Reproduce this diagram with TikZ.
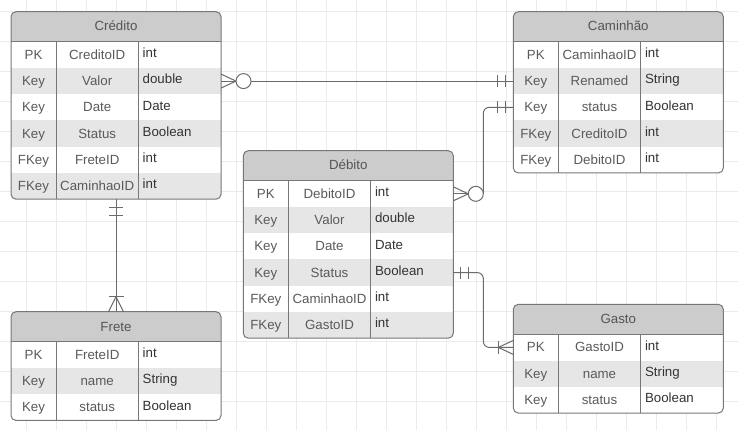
\documentclass[tikz,border=0pt]{standalone}
\usepackage{fontspec}
\setmainfont{Liberation Sans}
\usetikzlibrary{calc}
\definecolor{hdrfill}{HTML}{CCCCCC}
\definecolor{rowfill}{HTML}{E6E6E6}
\definecolor{bordc}{HTML}{777777}
\definecolor{gridc}{HTML}{EBEBEB}
\definecolor{connc}{HTML}{6B6B6B}
\definecolor{keyc}{HTML}{5A5A5A}
\definecolor{typec}{HTML}{333333}
\definecolor{hdrc}{HTML}{555555}
\tikzset{
  gridline/.style={draw=gridc, line width=0.8pt},
  tblborder/.style={draw=bordc, line width=1pt},
  rowbox/.style={inner sep=0pt, outer sep=0pt, minimum width=210pt, minimum height=26.25pt},
  keytxt/.style={text=keyc, inner sep=0pt, anchor=base, font=\fontsize{13.3}{16}\selectfont},
  typetxt/.style={text=typec, inner sep=0pt, anchor=base west, font=\fontsize{13.3}{16}\selectfont},
  hdrtxt/.style={text=hdrc, inner sep=0pt, anchor=base, font=\fontsize{13.3}{16}\selectfont},
  conn/.style={draw=connc, line width=1pt},
}
\newcommand{\ertable}[6]{%
  \pgfmathsetmacro{\tH}{30+#5*26.25}
  \node[inner sep=0pt, outer sep=0pt, minimum width=210pt, minimum height=\tH pt, anchor=north west] (#1) at (#2,#3) {};
  \begin{scope}
    \clip[rounded corners=5pt] (#2,#3) rectangle ++(210,\tH);
    \fill[white] (#2,#3) rectangle ++(210,\tH);
    \fill[hdrfill] (#2,#3) rectangle ++(210,30);
    \foreach \rk/\rn/\rt [count=\i] in {#6} {
      \pgfmathsetmacro{\ry}{#3+30+(\i-1)*26.25}
      \ifodd\i\relax \def\rf{white}\else \def\rf{rowfill}\fi
      \node[rowbox, fill=\rf, anchor=north west] (#1-r\i) at (#2,\ry) {};
      \node[keytxt] (#1-k\i) at ({#2+22.5},{\ry+13.125+4.5}) {\rk};
      \node[keytxt] (#1-n\i) at ({#2+86.2},{\ry+13.125+4.5}) {\rn};
      \node[typetxt] (#1-t\i) at ({#2+131.5},{\ry+13.125+2.7}) {\rt};
    }
  \end{scope}
  \node[hdrtxt] (#1-h) at ({#2+105},{#3+15+4.3}) {#4};
  \draw[tblborder] (#2,{#3+30}) -- ++(210,0);
  \draw[tblborder] ({#2+45},{#3+30}) -- ++(0,{\tH-30});
  \draw[tblborder] ({#2+127.3},{#3+30}) -- ++(0,{\tH-30});
  \draw[tblborder, rounded corners=5pt] (#2,#3) rectangle ++(210,\tH);
}
\begin{document}
\begin{tikzpicture}[x=1pt, y=-1pt]
\useasboundingbox (0,0) rectangle (738,430);
\fill[white] (0,0) rectangle (738,430);
\foreach \gx in {0,...,23} \draw[gridline] ({26.7+30*\gx},0) -- ({26.7+30*\gx},430);
\foreach \gy in {0,...,13} \draw[gridline] (0,{11.7+30*\gy}) -- (738,{11.7+30*\gy});

\ertable{credito}{11}{11.7}{Crédito}{6}{PK/CreditoID/int, Key/Valor/double, Key/Date/Date, Key/Status/Boolean, FKey/FreteID/int, FKey/CaminhaoID/int}
\ertable{caminhao}{513.3}{11.7}{Caminhão}{5}{PK/CaminhaoID/int, Key/Renamed/String, Key/status/Boolean, FKey/CreditoID/int, FKey/DebitoID/int}
\ertable{debito}{243.3}{150.7}{Débito}{6}{PK/DebitoID/int, Key/Valor/double, Key/Date/Date, Key/Status/Boolean, FKey/CaminhaoID/int, FKey/GastoID/int}
\ertable{frete}{11}{311.7}{Frete}{3}{PK/FreteID/int, Key/name/String, Key/status/Boolean}
\ertable{gasto}{513.3}{304.3}{Gasto}{3}{PK/GastoID/int, Key/name/String, Key/status/Boolean}

% Credito -- Caminhao
\draw[conn] ($(credito-r2.east)+(30,0)$) -- (caminhao-r2.west);
\draw[conn] ($(credito-r2.east)+(0,-7)$) -- ($(credito-r2.east)+(15,0)$) -- ($(credito-r2.east)+(0,7)$);
\draw[conn] (credito-r2.east) -- ($(credito-r2.east)+(15,0)$);
\draw[conn, fill=white] ($(credito-r2.east)+(22.5,0)$) circle[radius=7.5pt];
\draw[conn] ($(caminhao-r2.west)+(-15.5,-6)$) -- ++(0,12);
\draw[conn] ($(caminhao-r2.west)+(-7.5,-6)$) -- ++(0,12);

% Debito -- Caminhao
\draw[conn, rounded corners=6pt] ($(debito-r1.east)+(30,0)$) |- (caminhao-r3.west);
\draw[conn] ($(debito-r1.east)+(0,-7)$) -- ($(debito-r1.east)+(15,0)$) -- ($(debito-r1.east)+(0,7)$);
\draw[conn] (debito-r1.east) -- ($(debito-r1.east)+(15,0)$);
\draw[conn, fill=white] ($(debito-r1.east)+(22.5,0)$) circle[radius=7.5pt];
\draw[conn] ($(caminhao-r3.west)+(-15.5,-6)$) -- ++(0,12);
\draw[conn] ($(caminhao-r3.west)+(-7.5,-6)$) -- ++(0,12);

% Debito -- Gasto
\draw[conn, rounded corners=6pt] (debito-r4.east) -- ($(debito-r4.east)+(30,0)$) |- (gasto-r1.west);
\draw[conn] ($(debito-r4.east)+(7,-6)$) -- ++(0,12);
\draw[conn] ($(debito-r4.east)+(15,-6)$) -- ++(0,12);
\draw[conn] ($(gasto-r1.west)+(-15,-6.5)$) -- ++(0,13);
\draw[conn] ($(gasto-r1.west)+(0,-7)$) -- ($(gasto-r1.west)+(-15,0)$) -- ($(gasto-r1.west)+(0,7)$);

% Credito -- Frete
\draw[conn] (credito.south) -- (frete.north);
\draw[conn] ($(credito.south)+(-7,8.7)$) -- ++(14,0);
\draw[conn] ($(credito.south)+(-7,16.3)$) -- ++(14,0);
\draw[conn] ($(frete.north)+(-7.5,-15)$) -- ++(15,0);
\draw[conn] ($(frete.north)+(-7.5,0)$) -- ($(frete.north)+(0,-15)$) -- ($(frete.north)+(7.5,0)$);
\end{tikzpicture}
\end{document}
